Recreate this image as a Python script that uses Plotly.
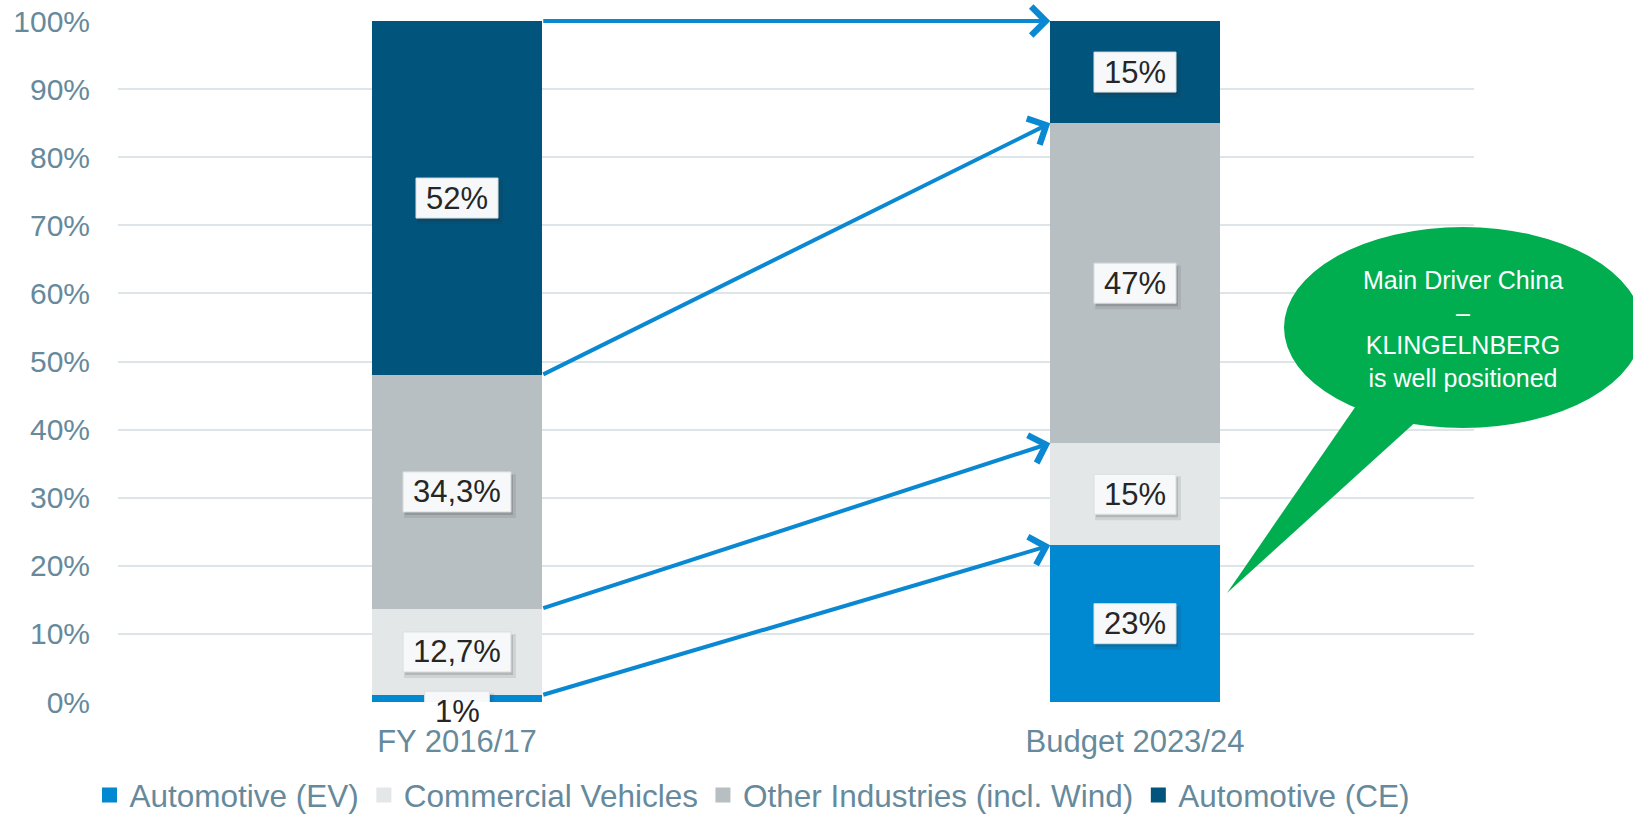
import plotly.graph_objects as go

# ---------------- data ----------------
categories = ["FY 2016/17", "Budget 2023/24"]
series_names = ["Automotive (EV)", "Commercial Vehicles",
                "Other Industries (incl. Wind)", "Automotive (CE)"]
ev_values = [1.0, 23.0]
commercial_values = [12.7, 15.0]
other_values = [34.3, 47.0]
ce_values = [52.0, 15.0]
ev_labels = ["1%", "23%"]
commercial_labels = ["12,7%", "15%"]
other_labels = ["34,3%", "47%"]
ce_labels = ["52%", "15%"]
y_tick_values = [0, 10, 20, 30, 40, 50, 60, 70, 80, 90, 100]
y_tick_labels = ["0%", "10%", "20%", "30%", "40%", "50%", "60%", "70%", "80%", "90%", "100%"]
callout_lines = ["Main Driver China", "–", "KLINGELNBERG", "is well positioned"]

# ---------------- style ----------------
series_values = [ev_values, commercial_values, other_values, ce_values]
series_labels = [ev_labels, commercial_labels, other_labels, ce_labels]
series_colors = ["#0088D1", "#E3E7E8", "#B8BFC2", "#01547C"]
FONT = "Liberation Sans, Arial, sans-serif"
AXIS_COLOR = "#668A9C"
ARROW_COLOR = "#0A89D2"
GREEN = "#00AE50"
BAR_WIDTH = 0.25
LABEL_SIZE = 31
PAD_X, BOX_H = 10, 40

W, H = 1633, 817
ML, MR, MT, MB = 118, 159, 21, 115
PW, PH = W - ML - MR, H - MT - MB

CHAR_W = {c: 0.556 for c in "0123456789"}
CHAR_W.update({"%": 0.889, ",": 0.278})


def text_width(s, size):
    return sum(CHAR_W.get(c, 0.556) for c in s) * size


def px_to_paper(px, py):
    return (px - ML) / PW, (H - MB - py) / PH


fig = go.Figure()
for name, vals, col in zip(series_names, series_values, series_colors):
    fig.add_trace(go.Bar(x=categories, y=vals, name=name, width=BAR_WIDTH,
                         showlegend=False,
                         marker=dict(color=col, line=dict(width=0))))
# legend entries with larger square swatches
for name, col in zip(series_names, series_colors):
    fig.add_trace(go.Scatter(x=[None], y=[None], mode="markers", name=name,
                             marker=dict(symbol="square", size=15, color=col),
                             showlegend=True))

annotations = []
shapes = []

n_cat = len(categories)
bottoms = [[0.0] * n_cat]
for vals in series_values:
    prev = bottoms[-1]
    bottoms.append([p + v for p, v in zip(prev, vals)])

# arrows between segment boundaries
for k in range(1, len(bottoms)):
    annotations.append(dict(
        x=1 - BAR_WIDTH / 2, y=bottoms[k][1], ax=BAR_WIDTH / 2, ay=bottoms[k][0],
        xref="x", yref="y", axref="x", ayref="y", text="",
        showarrow=True, arrowhead=4, arrowsize=1.4, arrowwidth=4,
        arrowcolor=ARROW_COLOR, standoff=0, startstandoff=0))

# data labels: box + soft shadow as shapes, text as annotation
for s, (vals, labs) in enumerate(zip(series_values, series_labels)):
    for i in range(n_cat):
        v = vals[i]
        base = bottoms[s][i]
        w = text_width(labs[i], LABEL_SIZE) + 2 * PAD_X
        if v < 3:
            y_anchor, c_off = base + v, 4 - BOX_H / 2
        else:
            y_anchor, c_off = base + v / 2, 0
        for dx, dy, grow, alpha in [(3, -4, 2, 0.10), (2, -3, 0, 0.16)]:
            shapes.append(dict(type="rect", xref="x", yref="y",
                               xsizemode="pixel", ysizemode="pixel",
                               xanchor=i, yanchor=y_anchor,
                               x0=-w / 2 + dx - grow, x1=w / 2 + dx + grow,
                               y0=c_off - BOX_H / 2 + dy - grow, y1=c_off + BOX_H / 2 + dy + grow,
                               fillcolor=f"rgba(40,40,40,{alpha})", line=dict(width=0),
                               layer="above"))
        shapes.append(dict(type="rect", xref="x", yref="y",
                           xsizemode="pixel", ysizemode="pixel",
                           xanchor=i, yanchor=y_anchor,
                           x0=-w / 2, x1=w / 2,
                           y0=c_off - BOX_H / 2, y1=c_off + BOX_H / 2,
                           fillcolor="#F6F8F9", line=dict(color="#DADFE2", width=1),
                           layer="above"))
        annotations.append(dict(x=i, y=y_anchor, xref="x", yref="y", showarrow=False,
                                text=labs[i], yshift=c_off, xanchor="center",
                                yanchor="middle",
                                font=dict(family=FONT, size=LABEL_SIZE, color="#262626")))

# callout bubble
ex0, ey1 = px_to_paper(1284, 227)
ex1, ey0 = px_to_paper(1642, 428)
t1 = px_to_paper(1360, 400)
t2 = px_to_paper(1227, 593)
t3 = px_to_paper(1420, 418)
shapes += [
    dict(type="path", xref="paper", yref="paper",
         path=f"M{t1[0]},{t1[1]} L{t2[0]},{t2[1]} L{t3[0]},{t3[1]} Z",
         fillcolor=GREEN, line=dict(width=0), layer="above"),
    dict(type="circle", xref="paper", yref="paper", x0=ex0, x1=ex1, y0=ey0, y1=ey1,
         fillcolor=GREEN, line=dict(width=0), layer="above"),
]
tx, ty = px_to_paper(1463, 329)
annotations.append(dict(x=tx, y=ty, xref="paper", yref="paper", showarrow=False,
                        text="<br>".join(callout_lines), xanchor="center", yanchor="middle",
                        align="center", font=dict(family=FONT, size=25, color="white")))

fig.update_layout(
    width=W, height=H, barmode="stack",
    margin=dict(l=ML, r=MR, t=MT, b=MB, autoexpand=False),
    paper_bgcolor="white", plot_bgcolor="white",
    font=dict(family=FONT, color=AXIS_COLOR),
    showlegend=True,
    legend=dict(orientation="h", xref="container", yref="container",
                x=752 / W, y=1 - 795 / H, xanchor="center", yanchor="middle",
                traceorder="normal", font=dict(family=FONT, size=31.5, color=AXIS_COLOR),
                bgcolor="rgba(0,0,0,0)", itemwidth=30),
    xaxis=dict(type="category", showgrid=False, showline=False, ticks="",
               automargin=False, range=[-0.5, 1.5],
               tickfont=dict(family=FONT, size=31, color=AXIS_COLOR),
               ticklabelstandoff=18),
    yaxis=dict(range=[0, 100], tickvals=y_tick_values, ticktext=y_tick_labels,
               showgrid=True, gridcolor="#DDE5E9", gridwidth=2, zeroline=False,
               showline=False, ticks="", automargin=False,
               tickfont=dict(family=FONT, size=30, color=AXIS_COLOR),
               ticklabelstandoff=27),
    annotations=annotations, shapes=shapes,
)

fig.write_html("out.html", config={"displayModeBar": False},
               post_script="document.body.style.margin='0';document.body.style.overflow='hidden';")
